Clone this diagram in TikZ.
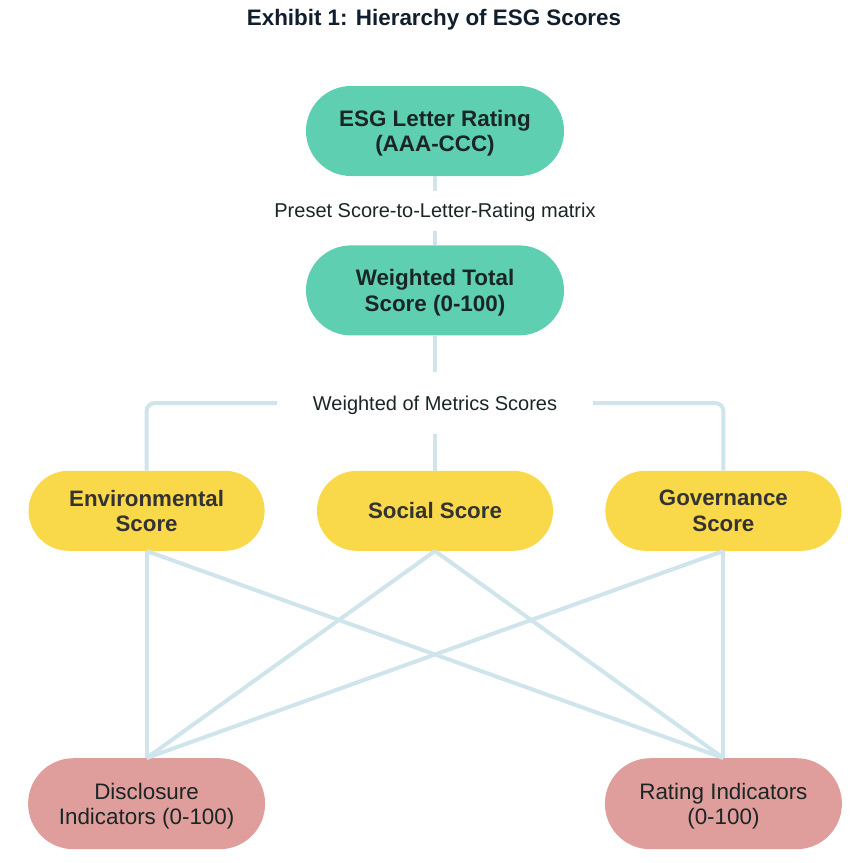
\documentclass[tikz,border=0pt]{standalone}
\usepackage{fontspec}
\setmainfont{Liberation Sans}
\usetikzlibrary{%
    positioning,%
    calc
    }
\definecolor{esgteal}{RGB}{94,207,177}
\definecolor{esgyellow}{RGB}{249,217,73}
\definecolor{esgred}{RGB}{223,158,155}
\definecolor{esgline}{RGB}{208,228,236}
\definecolor{esgtitle}{RGB}{16,30,45}
\definecolor{esgdark}{RGB}{26,38,38}
\definecolor{esggray}{RGB}{51,51,51}
\tikzset{
  rating/.style={
    rectangle,
    rounded corners=44.9pt,
    minimum width=258pt,
    minimum height=90pt,
    text depth=0pt,
    align=center,
    font=\fontsize{22.4}{25.5}\selectfont\bfseries,
    text=esgdark,
    fill=esgteal,
  },
  pillar/.style={
    rectangle,
    rounded corners=39.9pt,
    minimum width=236pt,
    minimum height=80pt,
    text depth=0pt,
    align=center,
    font=\fontsize{22.3}{25.5}\selectfont\bfseries,
    text=esggray,
    fill=esgyellow,
  },
  indicator/.style={
    rectangle,
    rounded corners=45.4pt,
    minimum width=237pt,
    minimum height=91pt,
    text depth=0pt,
    align=center,
    font=\fontsize{22.4}{25.5}\selectfont,
    text=esgdark,
    fill=esgred,
  },
  link/.style={
    draw=esgline,
    line width=4pt
  },
  caption/.style={
    fill=white,
    inner sep=0pt,
    text depth=0pt,
    font=\fontsize{20}{24}\selectfont,
    text=esgdark
  },
}

\begin{document}
\begin{tikzpicture}[x=1pt,y=-1pt]
\useasboundingbox (0,0) rectangle (866,862);
\node[font=\fontsize{22.4}{26}\selectfont\bfseries, text=esgtitle]
  (title) at (434,20)
  {Exhibit 1: Hierarchy of ESG Scores};
\node[rating]
  (letter) at (435,131)
  {ESG Letter Rating\\(AAA-CCC)};
\node[rating, below=69pt of letter]
  (total)
  {Weighted Total\\Score (0-100)};
\node[pillar, below=135pt of total]
  (social)
  {Social Score};
\node[pillar, left=52pt of social]
  (env)
  {Environmental\\Score};
\node[pillar, right=52pt of social]
  (gov)
  {Governance\\Score};
\node[indicator, below=207pt of env]
  (discl)
  {Disclosure\\Indicators (0-100)};
\node[indicator, below=207pt of gov]
  (ratind)
  {Rating Indicators\\(0-100)};

\begin{scope}[link]
\draw
  (letter) -- node[caption, minimum width=340pt, minimum height=40pt]
  {Preset Score-to-Letter-Rating matrix} (total);
\draw[rounded corners=8pt]
  (env.north) |- ($(total.south)!0.5!(social.north)$) -| (gov.north);
\draw
  (total) -- node[caption, minimum width=316pt, minimum height=62pt]
  {Weighted of Metrics Scores} (social);
\foreach \src in {env,social,gov}
  \foreach \dst in {discl,ratind}
    \draw (\src.south) -- (\dst.north);
\end{scope}
\end{tikzpicture}
\end{document}
